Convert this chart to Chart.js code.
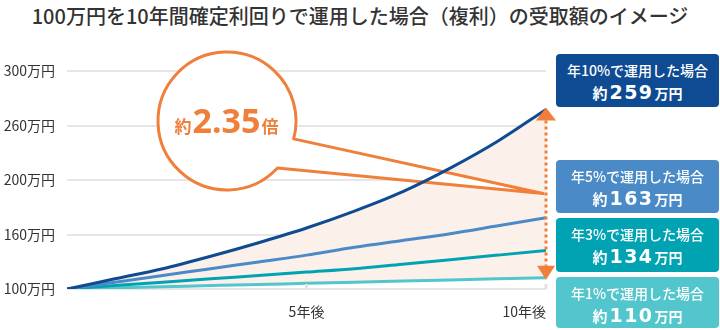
<!DOCTYPE html>
<html lang="ja">
<head>
<meta charset="utf-8">
<script src="https://cdn.jsdelivr.net/npm/chart.js@4.4.1/dist/chart.umd.min.js"></script>
<style>
    body {
        margin: 0;
        background: #fff;
    }

    #wrap {
        position: relative;
        width: 720px;
        height: 330px;
        font-family: "Noto Sans CJK JP", "Noto Sans", sans-serif;
    }

    #title {
        position: absolute;
        top: 0;
        left: 0;
        width: 720px;
        line-height: 32px;
        text-align: center;
        font-size: 20px;
        font-weight: 500;
        color: #333;
    }

    #chart {
        position: absolute;
        top: 0;
        left: 0;
    }

    .box {
        position: absolute;
        left: 556px;
        width: 163px;
        border-radius: 4px;
        color: #fff;
        text-align: center;
        box-sizing: border-box;
        padding-top: 7px;
    }

    .box .rate {
        font-size: 14px;
        font-weight: 500;
        line-height: 18px;
    }

    .box .amount {
        font-weight: bold;
        line-height: 26px;
        font-size: 15px;
    }

    .box .amount .num {
        font-family: "DejaVu Sans", sans-serif;
        font-size: 19px;
        letter-spacing: 1.5px;
        margin: 0 1px 0 2px;
    }

    .box .amount .unit {
        font-size: 14px;
    }
</style>
</head>
<body>
<div id="wrap">
    <div id="title">100万円を10年間確定利回りで運用した場合（複利）の受取額のイメージ</div>
    <canvas id="chart" width="720" height="330"></canvas>
</div>
<script>
    const years = [0, 1, 2, 3, 4, 5, 6, 7, 8, 9, 10]
    const rates = [10, 5, 3, 1]

    const values10 = [100, 109, 118, 129, 141, 154, 169, 186, 207, 231, 259]
    const values5  = [100, 106, 112, 118, 124, 130, 137, 143, 149, 156, 163]
    const values3  = [100, 103, 106, 109, 112, 115, 118, 122, 126, 130, 134]
    const values1  = [100, 101, 102, 103, 104, 105, 106, 107, 108, 109, 110]

    const xTickValues = [0, 5, 10]
    const xTickLabels = ['', '5年後', '10年後']
    const yTickLabels = ['100万円', '160万円', '200万円', '260万円', '300万円']

    const series  = [values10, values5, values3, values1]
    const colors  = ['#0e4b92', '#4a8bc7', '#01a3b3', '#52c6cc']
    const orange  = '#ef7f3a'
    const peach   = '#fcf0ea'
    const boxTops = [54, 160, 218, 277]
    const boxH    = [53, 53, 54, 51]

    Chart.defaults.font.family = '"Noto Sans CJK JP", "Noto Sans", sans-serif'
    Chart.defaults.color       = '#333'

    // value boxes on the right, one per rate
    const wrap = document.getElementById('wrap')
    rates.forEach((rate, i) => {
        const last = series[i][series[i].length - 1]
        const box  = document.createElement('div')
        box.className        = 'box'
        box.style.top        = boxTops[i] + 'px'
        box.style.height     = boxH[i] + 'px'
        box.style.background = colors[i]
        box.innerHTML        = `<div class="rate">年${rate}%で運用した場合</div>` +
            `<div class="amount">約<span class="num">${Math.round(last)}</span><span class="unit">万円</span></div>`
        wrap.appendChild(box)
    })

    const lastOf = arr => arr[arr.length - 1]

    const decor = {
        id: 'decor',
        beforeDatasetsDraw(chart) {
            const {ctx, scales: {x, y}} = chart
            const tipX = x.getPixelForValue(10) - 3
            const tipY = (y.getPixelForValue(lastOf(values10)) + y.getPixelForValue(lastOf(values1))) / 2

            // speech bubble with tail pointing at the arrow
            const cx = 227, cy = 121, r = 69
            const a1 = 43 * Math.PI / 180
            const a2 = 15 * Math.PI / 180
            ctx.save()
            ctx.beginPath()
            ctx.moveTo(tipX, tipY)
            ctx.lineTo(cx + r * Math.cos(a1), cy + r * Math.sin(a1))
            ctx.arc(cx, cy, r, a1, a2 + Math.PI * 2, false)
            ctx.closePath()
            ctx.fillStyle   = '#fff'
            ctx.strokeStyle = orange
            ctx.lineWidth   = 3
            ctx.lineJoin    = 'round'
            ctx.fill()
            ctx.stroke()

            const ratio = (lastOf(values10) / lastOf(values1)).toFixed(2)
            const parts = [
                {text: '約', font: 'bold 17px "Noto Sans CJK JP"'},
                {text: ratio, font: 'bold 34px "Noto Sans"'},
                {text: '倍', font: 'bold 17px "Noto Sans CJK JP"'},
            ]
            let total = 0
            parts.forEach(p => {
                ctx.font = p.font
                p.w      = ctx.measureText(p.text).width
                total += p.w + 1
            })
            let px = cx - total / 2
            ctx.fillStyle    = orange
            ctx.textBaseline = 'alphabetic'
            parts.forEach(p => {
                ctx.font = p.font
                ctx.fillText(p.text, px, 133)
                px += p.w + 1
            })
            ctx.restore()
        },
        afterDatasetsDraw(chart) {
            const {ctx, scales: {x, y}} = chart
            const ax     = x.getPixelForValue(10)
            const top    = y.getPixelForValue(lastOf(values10)) - 2
            const bottom = y.getPixelForValue(lastOf(values1)) + 2

            ctx.save()
            // small ticks above the base line
            ctx.fillStyle = '#e2e2e2'
            xTickValues.slice(1).forEach(v => {
                const px = x.getPixelForValue(v)
                ctx.fillRect(px - 1.5, y.bottom - 5, 3, 5)
            })

            // dotted double arrow between 10% and 1%
            ctx.strokeStyle = orange
            ctx.fillStyle   = orange
            ctx.lineWidth   = 3
            ctx.setLineDash([3, 3])
            ctx.beginPath()
            ctx.moveTo(ax, top + 13)
            ctx.lineTo(ax, bottom - 14)
            ctx.stroke()
            ctx.setLineDash([])

            ctx.beginPath()
            ctx.moveTo(ax, top)
            ctx.lineTo(ax + 10, top + 13)
            ctx.lineTo(ax - 10, top + 13)
            ctx.closePath()
            ctx.fill()

            ctx.beginPath()
            ctx.moveTo(ax, bottom)
            ctx.lineTo(ax + 9, bottom - 14)
            ctx.lineTo(ax - 9, bottom - 14)
            ctx.closePath()
            ctx.fill()
            ctx.restore()
        }
    }

    new Chart(document.getElementById('chart'), {
        type   : 'line',
        data   : {
            datasets: rates.map((rate, i) => ({
                label                 : `年${rate}%`,
                data                  : years.map((yr, j) => ({x: yr, y: series[i][j]})),
                borderColor           : colors[i],
                borderWidth           : 3,
                pointRadius           : 0,
                cubicInterpolationMode: 'monotone',
                backgroundColor       : peach,
                fill                  : i === 0 ? 3 : false,
            }))
        },
        options: {
            responsive: false,
            animation : false,
            layout    : {
                padding: {top: 71, right: 174, left: 0, bottom: 0}
            },
            plugins   : {
                legend : {display: false},
                tooltip: {enabled: false},
                filler : {drawTime: 'beforeDatasetsDraw'},
            },
            scales    : {
                x: {
                    type           : 'linear',
                    min            : 0,
                    max            : 10,
                    grid           : {display: false, drawTicks: false},
                    border         : {display: false},
                    ticks          : {
                        align      : 'inner',
                        padding    : 14,
                        autoSkip   : false,
                        maxRotation: 0,
                        font       : {size: 14},
                        callback   : (v, i) => xTickLabels[i],
                    },
                    afterBuildTicks: s => {
                        s.ticks = xTickValues.map(v => ({value: v}))
                    },
                    afterFit       : s => {
                        s.height = 41
                    },
                },
                y: {
                    type           : 'linear',
                    min            : 100,
                    max            : 293,
                    grid           : {color: '#e6e6e6', lineWidth: 2, drawTicks: false},
                    border         : {display: false},
                    ticks          : {
                        padding : 12,
                        font    : {size: 14},
                        callback: (v, i) => yTickLabels[i],
                    },
                    afterBuildTicks: s => {
                        const n = yTickLabels.length
                        s.ticks = yTickLabels.map((_, i) => ({value: s.min + (s.max - s.min) * i / (n - 1)}))
                    },
                    afterFit       : s => {
                        s.width = 67
                    },
                }
            }
        },
        plugins: [decor]
    })
</script>
</body>
</html>
